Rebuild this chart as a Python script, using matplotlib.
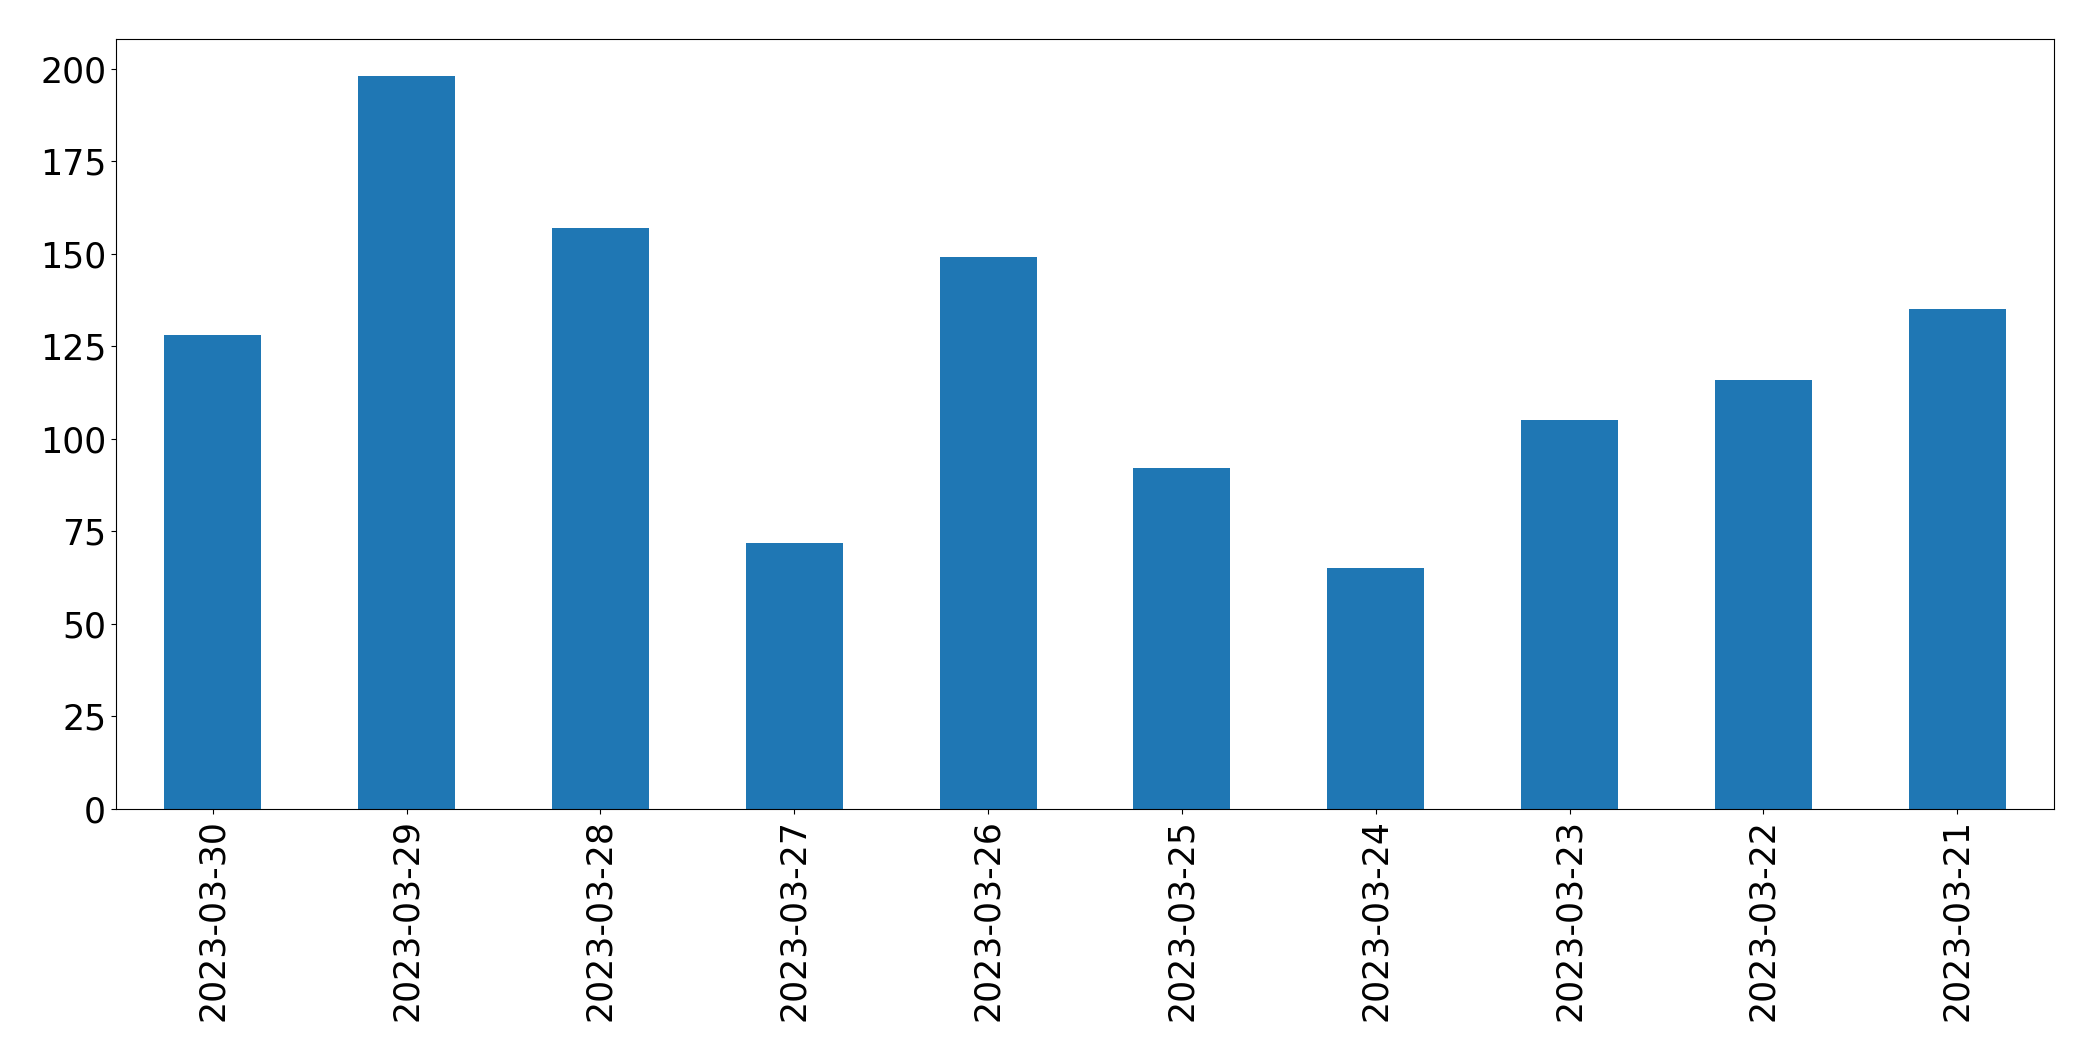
import pandas as pd
import matplotlib
matplotlib.use("Agg")
import matplotlib.pyplot as plt

dates = [
    "2023-03-30", "2023-03-29", "2023-03-28", "2023-03-27", "2023-03-26",
    "2023-03-25", "2023-03-24", "2023-03-23", "2023-03-22", "2023-03-21",
]
counts = [128, 198, 157, 72, 149, 92, 65, 105, 116, 135]

series = pd.Series(counts, index=dates)

fig, ax = plt.subplots(figsize=(20.93, 10.61), dpi=100)
series.plot(kind="bar", ax=ax, color="#1f77b4")

ax.tick_params(axis="both", labelsize=25)
plt.subplots_adjust(left=0.0554, right=0.9814, top=0.9628, bottom=0.2375)

plt.savefig("out.png", dpi=100)
